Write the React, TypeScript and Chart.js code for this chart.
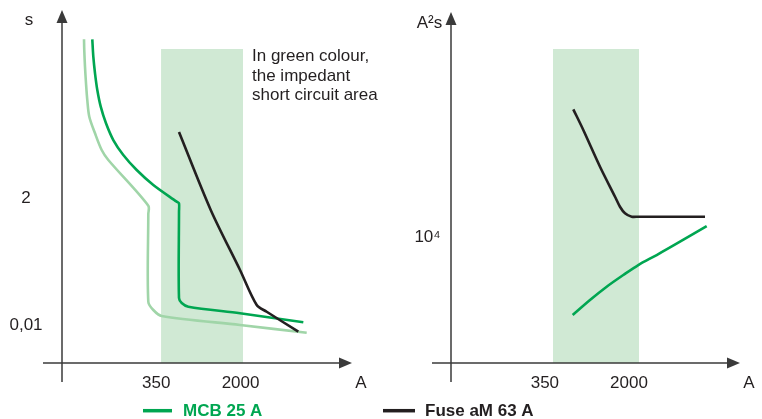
import React, { useEffect, useRef } from "react";
import { Chart, registerables } from "chart.js";

Chart.register(...registerables);

// ---- Axis ticks ----
const currentTicks = [350, 2000];
const currentTickLabels = ["350", "2000"];
const timeTicks = [2, 0.01];
const timeTickLabels = ["2", "0,01"];
const energyTicks = [10000];
const energyTickLabels = ["10⁴"];

// ---- Impedant short-circuit area (green band) ----
const shadedTimeX = [387, 2104];
const shadedTimeTop = [983, 983];
const shadedEnergyX = [414, 2464];
const shadedEnergyTop = [295800, 295800];

// ---- Left: tripping time (s) vs current (A) ----
const mcbMinTimeX = [78.8, 79.2, 80.4, 82.1, 84.3, 87.9, 98.9, 113.5, 130.2, 297.4, 297.4, 297.4, 329.8, 392.3, 1978, 7845];
const mcbMinTimeY = [1472, 942, 470, 235, 117, 58.2, 29.1, 14.5, 9.57, 1.42, 1.0, 0.0258, 0.01827, 0.01422, 0.00977, 0.00708];

const mcbTimeX = [93.5, 95.5, 98.9, 103.7, 111.3, 124.1, 144.3, 177.4, 234, 329.8, 534.6, 560.7, 560.7, 560.7, 593, 679.7, 1978, 7316];
const mcbTimeY = [1472, 713, 356, 177, 88.5, 44.3, 22.0, 11.8, 6.3, 3.37, 1.68, 1.57, 1.1, 0.0301, 0.0245, 0.021, 0.0159, 0.01093];

const fuseTimeX = [560.7, 1080, 1978, 2793, 3433, 6596];
const fuseTimeY = [30.8, 1.19, 0.097, 0.0225, 0.017, 0.00739];

// ---- Right: let-through energy (A²s) vs current (A) ----
const fuseEnergyX = [631, 776.6, 1098, 1499, 1661, 1843, 2118, 2428, 9680];
const fuseEnergyY = [99200, 68200, 35060, 20350, 16980, 15070, 14170, 14170, 14170];

const mcbEnergyX = [623, 892, 1261, 1779, 2428, 3556, 5766, 10026];
const mcbEnergyY = [2387, 3132, 3986, 4926, 5904, 7077, 9008, 11970];

const noteLines = ["In green colour,", "the impedant", "short circuit area"];
const legendLabels = ["MCB 25 A", "Fuse aM 63 A"];

// ---- Styles ----
const greenDark = "#00A651";
const greenLight = "#A0D5A8";
const shade = "#D0E9D4";
const fuseBlack = "#231F20";
const axisColor = "#3A3A3A";
const textColor = "#231F20";
const FONT = '"Liberation Sans", Arial, Helvetica, sans-serif';

const toPoints = (xs: number[], ys: number[]) => xs.map((x, i) => ({ x, y: ys[i] }));

type AxesCfg = {
  xTicks: number[];
  xLabels: string[];
  yTicks: number[];
  yLabels: string[];
  yTitle: string;
  yTitleDx: number;
  yTitleBaseline: number;
  yLabelDx: number;
  arrowDy: number;
  drawNote?: boolean;
  drawLegend?: boolean;
};

function makeAxesPlugin(cfg: AxesCfg) {
  return {
    id: "schematicAxes",
    afterDatasetsDraw(chart: any) {
      const { ctx, chartArea: a, scales } = chart;
      ctx.save();
      // y axis
      ctx.strokeStyle = axisColor;
      ctx.fillStyle = axisColor;
      ctx.lineWidth = 1.5;
      const tipY = a.top + cfg.arrowDy;
      ctx.beginPath();
      ctx.moveTo(a.left, a.bottom + 19);
      ctx.lineTo(a.left, tipY + 10);
      ctx.stroke();
      ctx.beginPath();
      ctx.moveTo(a.left, tipY);
      ctx.lineTo(a.left - 5.5, tipY + 13);
      ctx.lineTo(a.left + 5.5, tipY + 13);
      ctx.closePath();
      ctx.fill();
      // x axis
      ctx.beginPath();
      ctx.moveTo(a.left - 19, a.bottom);
      ctx.lineTo(a.right - 10, a.bottom);
      ctx.stroke();
      ctx.beginPath();
      ctx.moveTo(a.right, a.bottom);
      ctx.lineTo(a.right - 13, a.bottom - 5.5);
      ctx.lineTo(a.right - 13, a.bottom + 5.5);
      ctx.closePath();
      ctx.fill();

      // labels
      ctx.fillStyle = textColor;
      ctx.font = `17px ${FONT}`;
      ctx.textBaseline = "alphabetic";
      ctx.textAlign = "center";
      cfg.xTicks.forEach((v, i) => {
        ctx.fillText(cfg.xLabels[i], scales.x.getPixelForValue(v), a.bottom + 25);
      });
      ctx.fillText("A", a.right + 9, a.bottom + 25);
      cfg.yTicks.forEach((v, i) => {
        ctx.fillText(cfg.yLabels[i], a.left + cfg.yLabelDx, scales.y.getPixelForValue(v) + 6);
      });
      ctx.fillText(cfg.yTitle, a.left + cfg.yTitleDx, cfg.yTitleBaseline);

      if (cfg.drawNote) {
        ctx.textAlign = "left";
        noteLines.forEach((t, i) => ctx.fillText(t, 252, 61 + i * 19.5));
      }

      if (cfg.drawLegend) {
        const items = [
          { color: greenDark, x0: 143, x1: 172, tx: 183, label: legendLabels[0] },
          { color: fuseBlack, x0: 383, x1: 415, tx: 425, label: legendLabels[1] },
        ];
        ctx.textAlign = "left";
        ctx.font = `bold 17px ${FONT}`;
        items.forEach((it) => {
          ctx.strokeStyle = it.color;
          ctx.lineWidth = 3.5;
          ctx.beginPath();
          ctx.moveTo(it.x0, 410.7);
          ctx.lineTo(it.x1, 410.7);
          ctx.stroke();
          ctx.fillStyle = it.color;
          ctx.fillText(it.label, it.tx, 416);
        });
      }
      ctx.restore();
    },
  };
}

function lineDs(label: string, xs: number[], ys: number[], color: string, order: number) {
  return {
    label,
    data: toPoints(xs, ys),
    borderColor: color,
    borderWidth: 2.6,
    pointRadius: 0,
    fill: false,
    tension: 0.3,
    borderJoinStyle: "round",
    order,
  };
}

function bandDs(xs: number[], tops: number[]) {
  return {
    label: "Impedant short circuit area",
    data: toPoints(xs, tops),
    borderColor: "rgba(0,0,0,0)",
    borderWidth: 1,
    backgroundColor: shade,
    pointRadius: 0,
    fill: "start",
    tension: 0,
    order: 10,
  };
}

function baseOptions(padding: any, xMin: number, xMax: number, yMin: number, yMax: number) {
  return {
    animation: false,
    responsive: false,
    events: [],
    layout: { padding },
    scales: {
      x: { type: "logarithmic", min: xMin, max: xMax, display: false, bounds: "data" },
      y: { type: "logarithmic", min: yMin, max: yMax, display: false, bounds: "data" },
    },
    plugins: { legend: { display: false }, tooltip: { enabled: false } },
  };
}

export default function App() {
  const leftRef = useRef<HTMLCanvasElement>(null);
  const rightRef = useRef<HTMLCanvasElement>(null);

  useEffect(() => {
    const left = new Chart(leftRef.current as HTMLCanvasElement, {
      type: "line",
      data: {
        datasets: [
          bandDs(shadedTimeX, shadedTimeTop),
          lineDs("MCB 25 A (min)", mcbMinTimeX, mcbMinTimeY, greenLight, 3),
          lineDs("MCB 25 A", mcbTimeX, mcbTimeY, greenDark, 2),
          lineDs("Fuse aM 63 A", fuseTimeX, fuseTimeY, fuseBlack, 1),
        ] as any,
      },
      options: baseOptions({ left: 62, right: 762 - 352, top: 10, bottom: 56 }, 50, 20000, 0.002, 5000) as any,
      plugins: [
        makeAxesPlugin({
          xTicks: currentTicks,
          xLabels: currentTickLabels,
          yTicks: timeTicks,
          yLabels: timeTickLabels,
          yTitle: "s",
          yTitleDx: -33,
          yTitleBaseline: 25,
          yLabelDx: -36,
          arrowDy: 0,
          drawNote: true,
          drawLegend: true,
        }),
      ],
    });

    const right = new Chart(rightRef.current as HTMLCanvasElement, {
      type: "line",
      data: {
        datasets: [
          bandDs(shadedEnergyX, shadedEnergyTop),
          lineDs("MCB 25 A", mcbEnergyX, mcbEnergyY, greenDark, 2),
          lineDs("Fuse aM 63 A", fuseEnergyX, fuseEnergyY, fuseBlack, 1),
        ] as any,
      },
      options: baseOptions({ left: 451, right: 762 - 740, top: 10, bottom: 56 }, 50, 20000, 1000, 600000) as any,
      plugins: [
        makeAxesPlugin({
          xTicks: currentTicks,
          xLabels: currentTickLabels,
          yTicks: energyTicks,
          yLabels: energyTickLabels,
          yTitle: "A²s",
          yTitleDx: -21.5,
          yTitleBaseline: 28,
          yLabelDx: -23.5,
          arrowDy: 2,
        }),
      ],
    });

    return () => {
      left.destroy();
      right.destroy();
    };
  }, []);

  return (
    <div style={{ position: "absolute", left: 0, top: 0, width: 762, height: 419, background: "#ffffff" }}>
      <canvas ref={leftRef} width={762} height={419} style={{ position: "absolute", left: 0, top: 0 }} />
      <canvas ref={rightRef} width={762} height={419} style={{ position: "absolute", left: 0, top: 0 }} />
    </div>
  );
}
